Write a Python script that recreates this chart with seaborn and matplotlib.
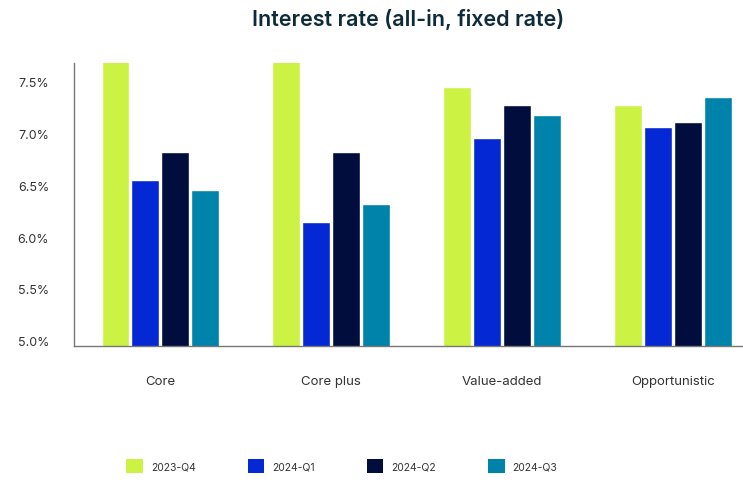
import matplotlib
matplotlib.use("Agg")
import matplotlib.pyplot as plt
import seaborn as sns
import pandas as pd
from matplotlib.patches import Patch
from matplotlib.ticker import FuncFormatter

categories = ["Core", "Core plus", "Value-added", "Opportunistic"]
periods = ["2023-Q4", "2024-Q1", "2024-Q2", "2024-Q3"]
rate_2023_q4 = [7.80, 7.80, 7.45, 7.27]
rate_2024_q1 = [6.55, 6.15, 6.96, 7.06]
rate_2024_q2 = [6.82, 6.82, 7.27, 7.11]
rate_2024_q3 = [6.45, 6.32, 7.18, 7.35]
y_ticks = [5.0, 5.5, 6.0, 6.5, 7.0, 7.5]

colors = ["#CCF244", "#0328D4", "#000D3D", "#0083AA"]

series = [rate_2023_q4, rate_2024_q1, rate_2024_q2, rate_2024_q3]
df = pd.DataFrame(
    [(c, p, v) for p, vals in zip(periods, series) for c, v in zip(categories, vals)],
    columns=["strategy", "period", "rate"],
)

sns.set_theme(style="white")
plt.rcParams["font.family"] = ["Inter", "DejaVu Sans"]

fig = plt.figure(figsize=(7.43, 4.81), dpi=100)
ax = fig.add_axes([0.0996, 0.2786, 0.9004, 0.5884])

sns.barplot(
    data=df, x="strategy", y="rate", hue="period",
    order=categories, hue_order=periods, palette=colors,
    width=0.70, gap=0.07, saturation=1, legend=False, ax=ax,
)

ax.set_ylim(4.95, 7.68)
ax.set_xlim(-0.505, 3.41)
ax.set_yticks(y_ticks)
ax.yaxis.set_major_formatter(FuncFormatter(lambda v, _: f"{v:.1f}%"))
ax.set_xlabel("")
ax.set_ylabel("")
ax.tick_params(axis="y", length=0, pad=18, labelsize=9, labelcolor="#333333")
ax.tick_params(axis="x", length=0, pad=21, labelsize=9.5, labelcolor="#333333")

for side in ("top", "right"):
    ax.spines[side].set_visible(False)
for side in ("left", "bottom"):
    ax.spines[side].set_color("#777777")
    ax.spines[side].set_linewidth(1.0)

ax.set_title("Interest rate (all-in, fixed rate)", fontsize=15.5, fontweight="semibold",
             color="#0D2B3A", pad=27)

handles = [Patch(facecolor=c, edgecolor="none", label=p) for c, p in zip(colors, periods)]
fig.legend(handles=handles, loc="center", bbox_to_anchor=(0.46, 0.029), ncol=4,
           frameon=False, fontsize=7.5, handlelength=1.6, handleheight=1.75,
           handletextpad=0.75, columnspacing=5.0, labelcolor="#333333")

fig.savefig("out.png", dpi=100)
